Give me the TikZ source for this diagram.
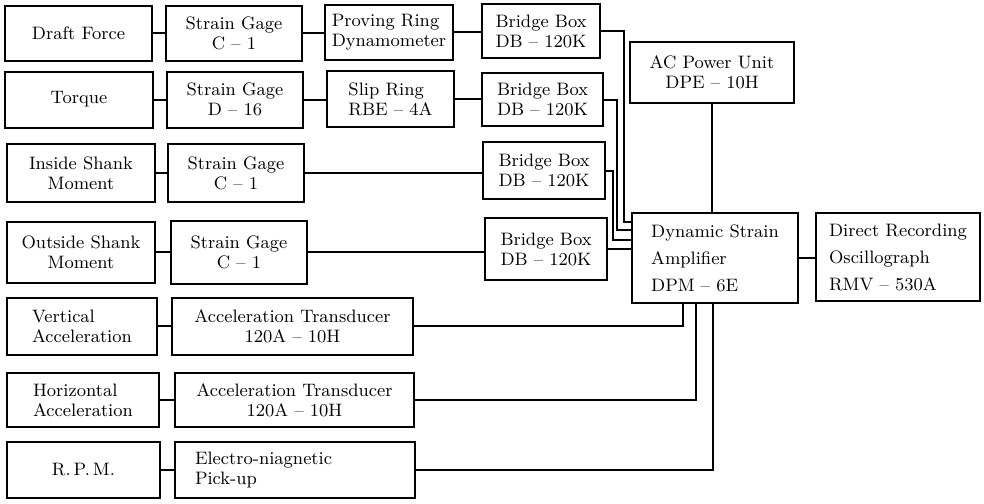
\documentclass[tikz,border=0pt]{standalone}
\usepackage{tikz}
\usetikzlibrary{calc}

\begin{document}
\begin{tikzpicture}[x=0.5pt,y=-0.5pt,line width=1pt,
  blk/.style={draw, inner sep=2pt, font=\fontsize{9}{10}\selectfont, align=center},
  blkl/.style={blk, align=left}]
\useasboundingbox (0,0) rectangle (984,503);
\node[blk, minimum width=73.5pt, minimum height=27.5pt] (draft) at (78.5,33) {Draft Force};
\node[blk, minimum width=68pt, minimum height=27.5pt] (sg1) at (234,33) {Strain Gage\\C -- 1};
\node[blkl, minimum width=64pt, minimum height=27.5pt] (ring) at (389,32) {Proving Ring\\Dynamometer};
\node[blkl, minimum width=59pt, minimum height=27pt] (bb1) at (541,31) {Bridge Box\\DB -- 120K};
\node[blk, minimum width=74pt, minimum height=28pt] (torque) at (79,99.5) {Torque};
\node[blk, minimum width=68pt, minimum height=28pt] (sg2) at (235,99.5) {Strain Gage\\D -- 16};
\node[blkl, minimum width=63.5pt, minimum height=28pt] (slip) at (390.5,99) {Slip Ring\\RBE -- 4A};
\node[blkl, minimum width=60.5pt, minimum height=26.5pt] (bb2) at (542.5,99.5) {Bridge Box\\DB -- 120K};
\node[blk, minimum width=82pt, minimum height=30.5pt] (ac) at (712,72.5) {AC Power Unit\\DPE -- 10H};
\node[blk, minimum width=74pt, minimum height=29pt] (inside) at (81,173) {Inside Shank\\Moment};
\node[blk, minimum width=68pt, minimum height=29pt] (sg3) at (236,173) {Strain Gage\\C -- 1};
\node[blkl, minimum width=61pt, minimum height=28.5pt] (bb3) at (544,170.5) {Bridge Box\\DB -- 120K};
\node[blk, minimum width=74pt, minimum height=30.5pt] (outside) at (81,252) {Outside Shank\\Moment};
\node[blk, minimum width=68pt, minimum height=31.5pt] (sg4) at (239,252) {Strain Gage\\C -- 1};
\node[blkl, minimum width=61pt, minimum height=31pt] (bb4) at (546,249) {Bridge Box\\DB -- 120K};
\node[blkl, minimum width=83pt, minimum height=45pt] (amp) at (715,258) {Dynamic Strain\\[3.5pt]Amplifier\\[3.5pt]DPM -- 6E};
\node[blkl, minimum width=82pt, minimum height=44pt] (osc) at (898,257) {Direct Recording\\[3.5pt]Oscillograph\\[3.5pt]RMV -- 530A};
\node[blkl, minimum width=75pt, minimum height=28.5pt] (vert) at (82,326) {Vertical\\Acceleration};
\node[blk, minimum width=120.5pt, minimum height=28.5pt] (acc1) at (292.5,326) {Acceleration Transducer\\120A -- 10H};
\node[blkl, minimum width=76pt, minimum height=27pt] (horiz) at (83,400) {Horizontal\\Acceleration};
\node[blk, minimum width=119.5pt, minimum height=27pt] (acc2) at (294.5,400) {Acceleration Transducer\\120A -- 10H};
\node[blk, minimum width=76.5pt, minimum height=28pt] (rpm) at (83.5,470) {R.\,P.\,M.};
\node[blkl, text width=100pt, minimum width=120pt, minimum height=28pt] (pickup) at (295,470) {Electro-niagnetic\\Pick-up};
\draw (draft) -- (sg1);
\draw (sg1.east) -- (sg1.east -| ring.west);
\draw (ring.east) -- (ring.east -| bb1.west);
\draw (torque) -- (sg2);
\draw (sg2.east) -- (sg2.east -| slip.west);
\draw (slip.east) -- (slip.east -| bb2.west);
\draw (inside) -- (sg3);
\draw (sg3.east) -- (sg3.east -| bb3.west);
\draw (outside) -- (sg4);
\draw (sg4.east) -- (sg4.east -| bb4.west);
\draw (vert) -- (acc1);
\draw (horiz) -- (acc2);
\draw (rpm) -- (pickup);
\draw (bb1.east) -- ++(23,0) |- ([yshift=18pt]amp.west);
\draw (bb2.east) -- ++(13,0) |- ([yshift=14pt]amp.west);
\draw (bb3.east) -- ++(7,0) |- ([yshift=9pt]amp.west);
\draw (bb4.east) -- (bb4.east -| amp.west);
\draw (ac.south) -- (ac.south |- amp.north);
\draw (amp.east) -- (amp.east -| osc.west);
\draw (acc1.east) -| ([xshift=-16pt]amp.south);
\draw (acc2.east) -| ([xshift=-9.5pt]amp.south);
\draw (pickup.east) -| ([xshift=-1pt]amp.south);
\end{tikzpicture}
\end{document}
